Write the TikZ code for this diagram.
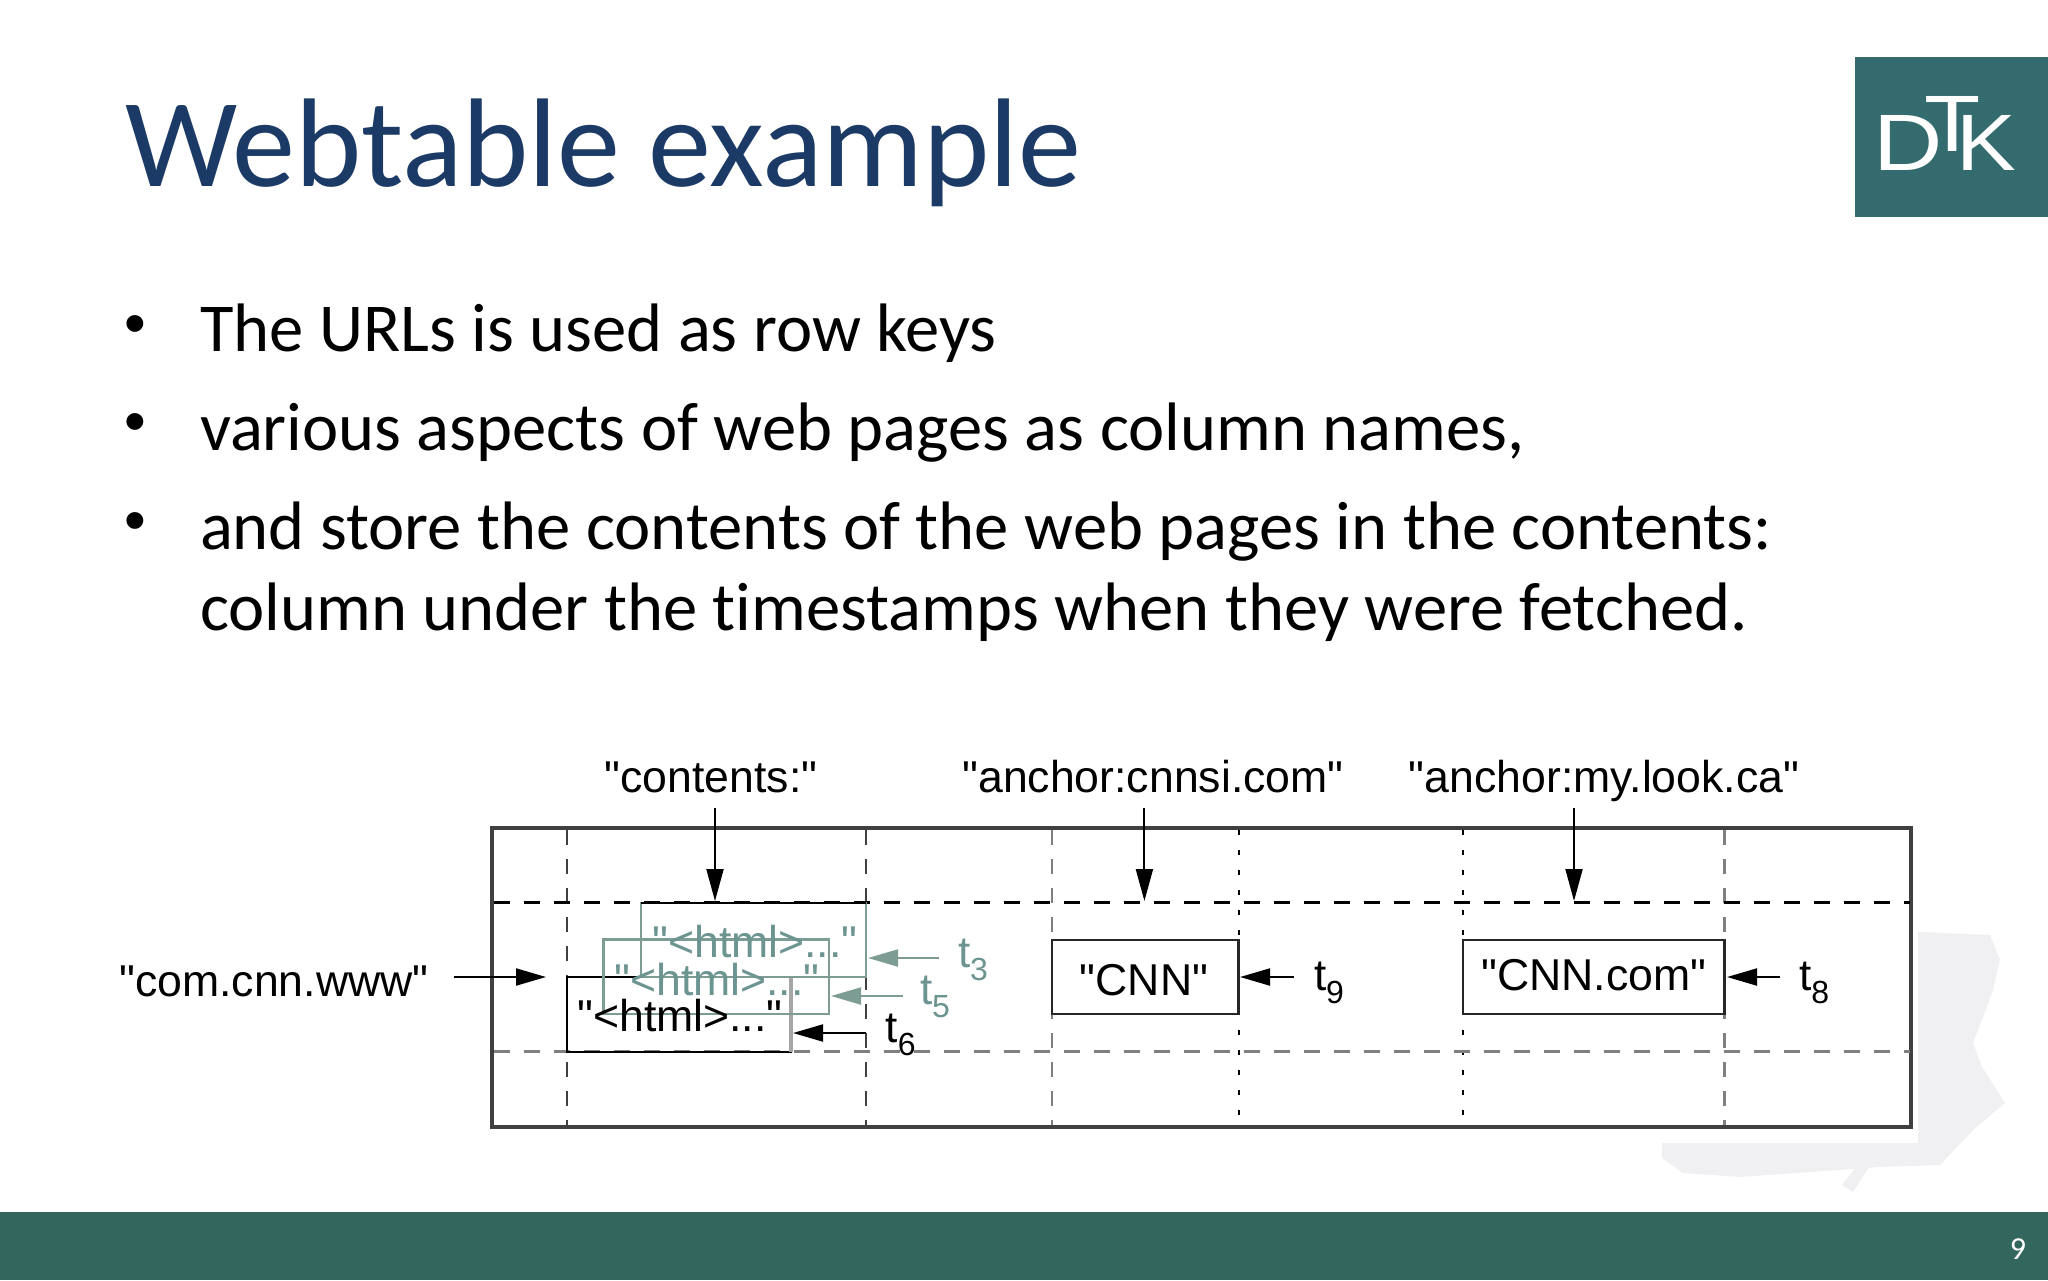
\documentclass[tikz,border=0pt]{standalone}
\usepackage{fontspec}
\setmainfont[Ligatures=NoCommon]{Carlito}
\newfontfamily\hv{Liberation Sans}
\usetikzlibrary{arrows.meta}
\definecolor{titleblue}{HTML}{1B3A66}
\definecolor{footgreen}{HTML}{33665C}
\definecolor{logoteal}{HTML}{336B6F}
\definecolor{sage}{HTML}{7D9C94}
\definecolor{sagetext}{HTML}{6C9490}
\definecolor{wm}{HTML}{F0F0F2}
\newcommand{\tsub}[1]{t\raisebox{-6.5pt}{\fontsize{16}{18}\selectfont #1}}
\tikzset{
  x=0.5pt,y=-0.5pt,
  txt/.style={inner sep=0pt,outer sep=0pt,anchor=base west},
  titletxt/.style={txt,text=titleblue,font=\fontsize{63.1}{70}\selectfont},
  bodytxt/.style={txt,text=black,font=\fontsize{34.3}{40}\selectfont},
  bullettxt/.style={inner sep=0pt,anchor=base,font=\hv\fontsize{31}{40}\selectfont},
  fig/.style={inner sep=0pt,outer sep=0pt,anchor=base,font=\hv\fontsize{22.3}{26}\selectfont},
  figw/.style={inner sep=0pt,outer sep=0pt,anchor=base west,font=\hv\fontsize{22}{26}\selectfont},
  logotxt/.style={inner sep=0pt,outer sep=0pt,anchor=base west,text=white,font=\hv\fontsize{40}{48}\selectfont},
  cellbox/.style={draw=#1,line width=1.2pt,inner sep=0pt,outer sep=0pt,anchor=north west},
  arr/.style={draw=#1,line width=1pt,-{Triangle[length=16pt,width=8.5pt]},color=#1},
  harr/.style={draw=#1,line width=1pt,-{Triangle[length=15pt,width=8.5pt]},color=#1},
  vlong/.style={draw=#1,line width=1.2pt,dash pattern=on 7.5pt off 7pt},
  vdot/.style={draw=black,line width=1pt,dash pattern=on 2.5pt off 7.5pt},
  hdash/.style={draw=#1,line width=1.4pt,dash pattern=on 8pt off 7pt},
}
\begin{document}
\begin{tikzpicture}
\useasboundingbox (0,0) rectangle (2048,1280);
\fill[white] (0,0) rectangle (2048,1280);
% footer and logo
\fill[footgreen] (0,1212) rectangle (2048,1280);
\node[inner sep=0pt,anchor=base,text=white,font=\fontsize{16}{20}\selectfont] (pagenum) at (2018,1259) {9};
\fill[logoteal] (1855,56.5) rectangle (2048,216.5);
\node[logotxt] (logoD) at (1873,170) {\scalebox{1.2}[1]{D}};
\node[logotxt] (logoT) at (1924,151) {\scalebox{1.15}[1]{T}};
\node[logotxt] (logoK) at (1956,170) {\scalebox{1.12}[1]{K}};
% watermark
\fill[wm] (1918,932) -- (1990,935) -- (2000,960) -- (1993,990) -- (1973,1043) -- (1982,1067) -- (2005,1103) -- (1973,1130) -- (1940,1165) -- (1880,1167) -- (1740,1177) -- (1683,1173) -- (1662,1158) -- (1662,1143) -- (1918,1143) -- cycle;
\fill[wm] (1880,1150) -- (1870,1150) -- (1842,1185) -- (1853,1192) -- cycle;
% title and body
\node[titletxt] (title) at (125,186) {Webtable example};
\node[bullettxt] (b1) at (135,344) {•};
\node[bullettxt] (b2) at (135,442) {•};
\node[bullettxt] (b3) at (135,541) {•};
\node[bodytxt] (l1) at (200,351.5) {The URLs is used as row keys};
\node[bodytxt] (l2) at (200,450.5) {various aspects of web pages as column names,};
\node[bodytxt] (l3) at (200,549.5) {and store the contents of the web pages in the contents:};
\node[bodytxt] (l4) at (200,630.5) {column under the timestamps when they were fetched.};
% table frame
\node[draw=black!75,fill=white,line width=2pt,inner sep=0pt,outer sep=0pt,anchor=north west,minimum width=709.5pt,minimum height=149.5pt] (frame) at (492,828) {};
% grid
\draw[vlong=black!75] (567,830) -- (567,1125);
\draw[vlong=black!75] (866,830) -- (866,1125);
\draw[vlong=black!50] (1052,830) -- (1052,1125);
\draw[vlong=black!50] (1724.6,830) -- (1724.6,1125);
\draw[vdot] (1238.6,830) -- (1238.6,1125);
\draw[vdot] (1463,830) -- (1463,1125);
\draw[hdash=black] (494,902.7) -- (1910,902.7);
\draw[hdash=black!50] (494,1051.7) -- (1910,1051.7);
% contents cells
\node[cellbox=black,minimum width=112pt,minimum height=37.5pt] (c6) at (567,976.7) {};
\draw[draw=black!35,line width=1.6pt] (c6.north east) -- (c6.south east);
\node[cellbox=sage,minimum width=112.7pt,minimum height=37.4pt] (c5) at (603.6,939.3) {};
\node[cellbox=sage,minimum width=112.6pt,minimum height=37pt] (c3) at (640.7,902.7) {};
\draw[black,line width=1.2pt] (640.7,902.7) -- (866,902.7);
\node[fig,text=sagetext] (h3) at (755,957) {"<html>..."};
\node[fig,text=sagetext] (h5) at (717,995) {"<html>..."};
\node[fig,text=black] (h6) at (680,1031) {"<html>..."};
% other cells
\node[cellbox=black!85,minimum width=93.3pt,minimum height=37pt] (cnn) at (1052,940) {};
\node[cellbox=black!85,minimum width=130.8pt,minimum height=37pt] (cnncom) at (1463,940) {};
\node[fig] (cnnt) at (1144,995) {"CNN"};
\node[fig] (cnncomt) at (1594,990) {"CNN.com"};
% labels
\node[fig] (lcont) at (711,792) {"contents:"};
\node[fig] (lcnnsi) at (1153,792) {"anchor:cnnsi.com"};
\node[fig] (llook) at (1604,792) {"anchor:my.look.ca"};
\node[fig] (lrow) at (274,996) {"com.cnn.www"};
\node[figw,text=sagetext] (t3) at (958,967) {\tsub{3}};
\node[figw,text=sagetext] (t5) at (920,1004) {\tsub{5}};
\node[figw] (t6) at (885.6,1042) {\tsub{6}};
\node[figw] (t9) at (1314,990) {\tsub{9}};
\node[figw] (t8) at (1799,990) {\tsub{8}};
% connector ends
\coordinate (a1s) at (715,808);   \coordinate (a1e) at (715,901);
\coordinate (a2s) at (1144.4,808);\coordinate (a2e) at (1144.4,901);
\coordinate (a3s) at (1574,808);  \coordinate (a3e) at (1574,901);
\coordinate (a4s) at (454,977);   \coordinate (a4e) at (546,977);
\coordinate (a5s) at (939,958);   \coordinate (a5e) at (868,958);
\coordinate (a6s) at (903,996);   \coordinate (a6e) at (831,996);
\coordinate (a7s) at (866,1033);  \coordinate (a7e) at (793,1033);
\coordinate (a8s) at (1294,977);  \coordinate (a8e) at (1240,977);
\coordinate (a9s) at (1780,977);  \coordinate (a9e) at (1727,977);
\draw[arr=black] (a1s) -- (a1e);
\draw[arr=black] (a2s) -- (a2e);
\draw[arr=black] (a3s) -- (a3e);
\draw[harr=black] (a4s) -- (a4e);
\draw[harr=sage] (a5s) -- (a5e);
\draw[harr=sage] (a6s) -- (a6e);
\draw[harr=black] (a7s) -- (a7e);
\draw[harr=black] (a8s) -- (a8e);
\draw[harr=black] (a9s) -- (a9e);
\end{tikzpicture}
\end{document}
